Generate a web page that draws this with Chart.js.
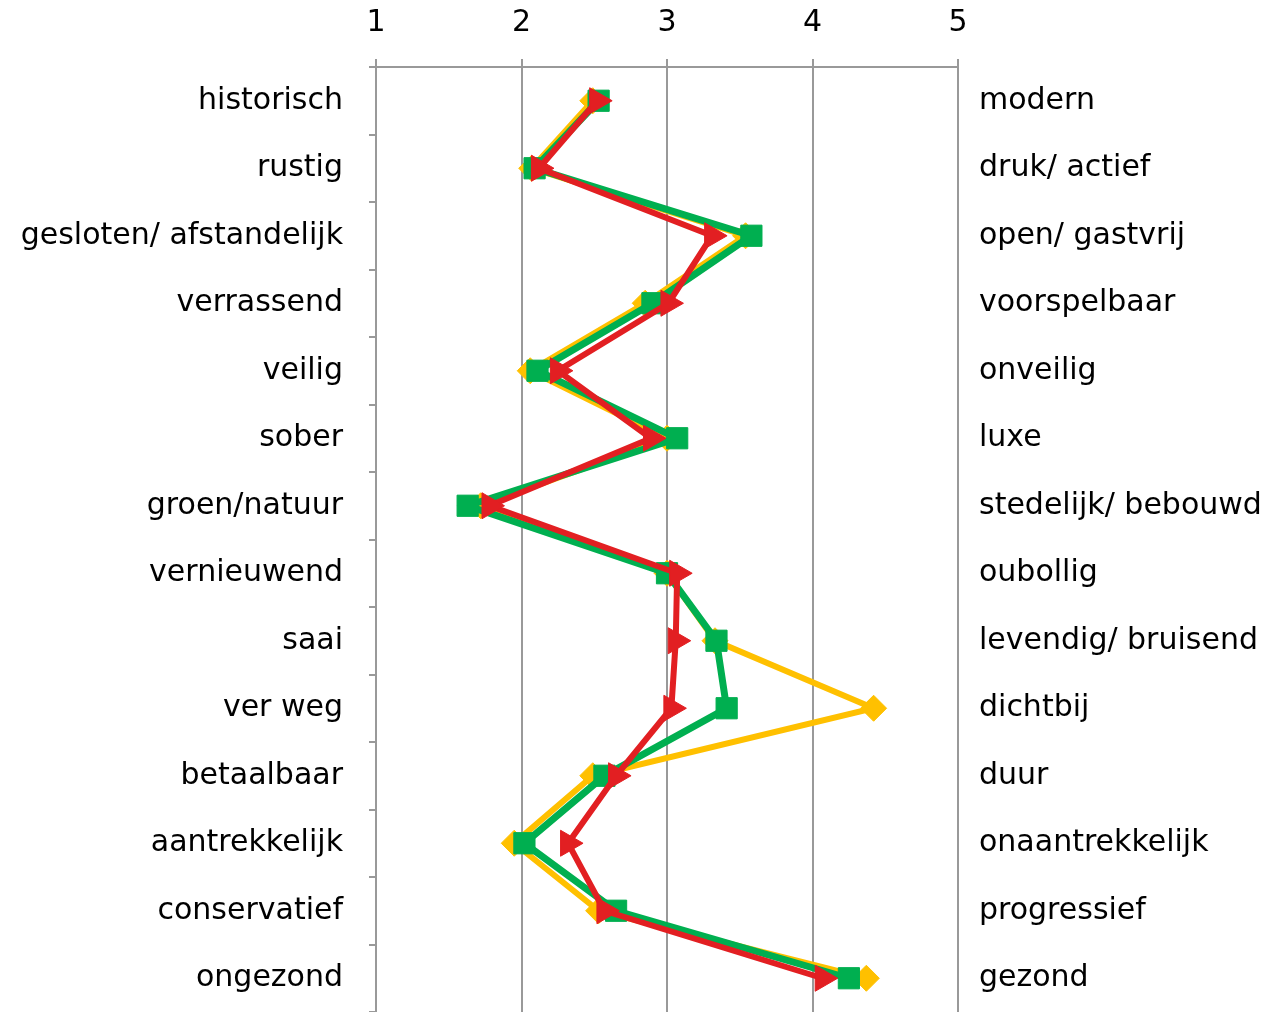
<!DOCTYPE html>
<html>
<head>
<meta charset="utf-8">
<script src="https://cdn.jsdelivr.net/npm/chart.js@4.4.1/dist/chart.umd.min.js"></script>
<style>
  html, body { margin: 0; padding: 0; background: #fff; }
  #wrap { width: 1283px; height: 1012px; position: relative; }
</style>
</head>
<body>
<div id="wrap"><canvas id="profileChart"></canvas></div>
<script>
// Left-hand (1) and right-hand (5) ends of each semantic scale
const leftLabels = ['historisch', 'rustig', 'gesloten/ afstandelijk', 'verrassend', 'veilig', 'sober',
    'groen/natuur', 'vernieuwend', 'saai', 'ver weg', 'betaalbaar', 'aantrekkelijk', 'conservatief', 'ongezond'];
const rightLabels = ['modern', 'druk/ actief', 'open/ gastvrij', 'voorspelbaar', 'onveilig', 'luxe',
    'stedelijk/ bebouwd', 'oubollig', 'levendig/ bruisend', 'dichtbij', 'duur', 'onaantrekkelijk', 'progressief', 'gezond'];
const scaleTicks = [1, 2, 3, 4, 5];

const yellowValues = [2.49, 2.07, 3.54, 2.85, 2.06, 3.0, 1.72, 3.0, 3.33, 4.42, 2.49, 1.95, 2.53, 4.37];
const greenValues  = [2.53, 2.09, 3.58, 2.9, 2.11, 3.07, 1.63, 3.0, 3.34, 3.41, 2.57, 2.02, 2.65, 4.25];
const redValues    = [2.52, 2.12, 3.31, 3.01, 2.25, 2.89, 1.78, 3.07, 3.06, 3.03, 2.65, 2.32, 2.57, 4.07];

const font = { family: '"DejaVu Sans", Verdana, sans-serif', size: 30 };
const gridGray = '#999999';

// category axes: drop the half-label padding so the plot runs to the bottom edge
const noVPad = (scale) => { scale.paddingTop = 0; scale.paddingBottom = 0; };

const ctx = document.getElementById('profileChart').getContext('2d');
const profileChart = new Chart(ctx, {
    type: 'line',
    data: {
        labels: leftLabels,
        datasets: [{
            label: 'rood',
            data: redValues,
            borderColor: '#E21F22',
            backgroundColor: '#E21F22',
            borderWidth: 6,
            pointStyle: 'triangle',
            rotation: 90,
            pointRadius: 15,
            pointBorderWidth: 1,
            tension: 0
        }, {
            label: 'groen',
            data: greenValues,
            borderColor: '#00AF50',
            backgroundColor: '#00AF50',
            borderWidth: 7,
            pointStyle: 'rect',
            pointRadius: 15,
            pointBorderWidth: 1,
            tension: 0
        }, {
            label: 'geel',
            data: yellowValues,
            borderColor: '#FFC000',
            backgroundColor: '#FFC000',
            borderWidth: 6,
            pointStyle: 'rectRot',
            pointRadius: 13,
            pointBorderWidth: 1,
            tension: 0
        }]
    },
    options: {
        indexAxis: 'y',
        responsive: true,
        maintainAspectRatio: false,
        animation: false,
        layout: { padding: 0, autoPadding: false },
        scales: {
            x: {
                type: 'linear',
                position: 'top',
                min: 1,
                max: 5,
                afterBuildTicks: (scale) => { scale.ticks = scaleTicks.map(v => ({ value: v })); },
                ticks: { font: font, color: '#000', padding: 18 },
                grid: { color: gridGray, lineWidth: 2, tickLength: 8 },
                border: { color: gridGray, width: 2 },
                afterFit: (scale) => { scale.height = 67; }
            },
            y: {
                type: 'category',
                position: 'left',
                offset: true,
                ticks: { font: font, color: '#000', padding: 26 },
                grid: { offset: true, drawOnChartArea: false, color: gridGray, lineWidth: 2, tickLength: 7 },
                border: { color: gridGray, width: 2 },
                afterFit: (scale) => { scale.width = 376; noVPad(scale); }
            },
            y2: {
                type: 'category',
                position: 'right',
                labels: rightLabels,
                offset: true,
                ticks: { font: font, color: '#000', padding: 13 },
                grid: { display: false },
                border: { display: false },
                afterFit: (scale) => { scale.width = 325; noVPad(scale); }
            }
        },
        plugins: {
            legend: { display: false },
            tooltip: { enabled: false }
        }
    }
});
</script>
</body>
</html>
